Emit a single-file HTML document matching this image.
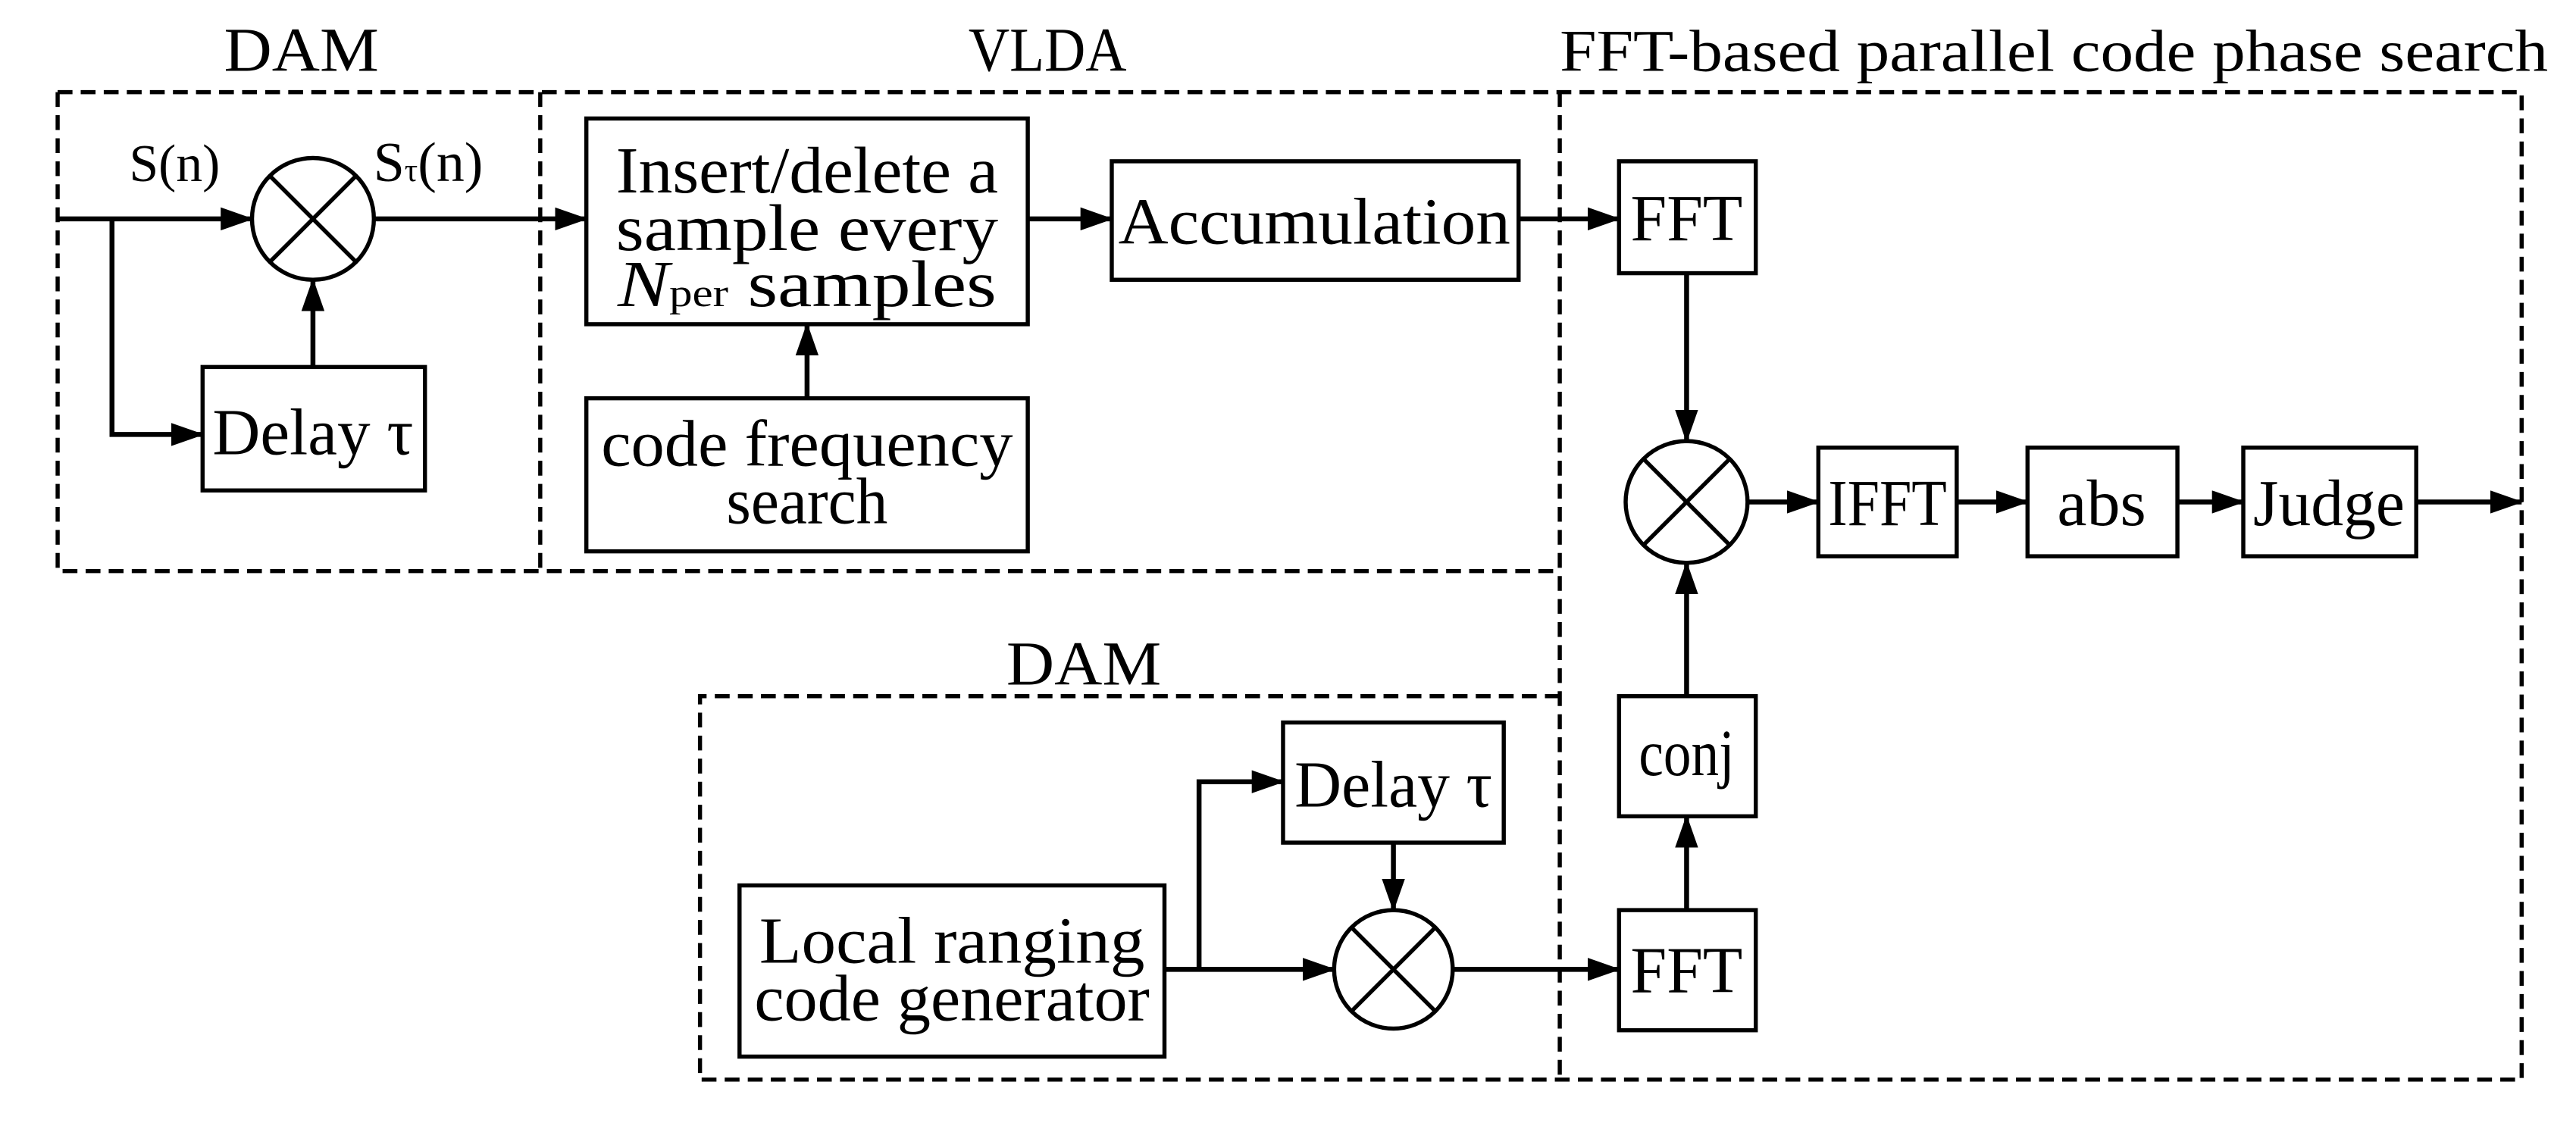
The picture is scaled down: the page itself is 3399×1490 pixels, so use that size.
<!DOCTYPE html>
<html><head><meta charset="utf-8"><style>html,body{margin:0;padding:0;background:#fff}svg{display:block}</style></head>
<body>
<svg width="3399" height="1490" viewBox="0 0 1564 686" preserveAspectRatio="none" xmlns="http://www.w3.org/2000/svg" font-family="Liberation Serif, serif" font-size="40" text-anchor="middle">
<defs>
<marker id="a" markerWidth="20" markerHeight="14" refX="19" refY="7" orient="auto" markerUnits="userSpaceOnUse"><path d="M0,0 L20,7 L0,14 Z" fill="#000"/></marker>
</defs>
<g fill="none" stroke="#000" stroke-width="2.5" stroke-dasharray="9,5">
<path d="M35,56 H1531 V656 H425 V423 H947"/>
<path d="M35,56 V347 H947"/>
<path d="M328,56 V347"/>
<path d="M947,56 V656"/>
</g>
<g fill="none" stroke="#000" stroke-width="2.5">
<rect x="123" y="223" width="135" height="75"/>
<rect x="356" y="72" width="268" height="125"/>
<rect x="675" y="98" width="247" height="72"/>
<rect x="356" y="242" width="268" height="93"/>
<rect x="983" y="98" width="83" height="68"/>
<rect x="1104" y="272" width="84" height="66"/>
<rect x="1231" y="272" width="91" height="66"/>
<rect x="1362" y="272" width="105" height="66"/>
<rect x="983" y="423" width="83" height="73"/>
<rect x="983" y="553" width="83" height="73"/>
<rect x="779" y="439" width="134" height="73"/>
<rect x="449" y="538" width="258" height="104"/>
<circle cx="190" cy="133" r="37"/><path d="M164,107 L216,159 M216,107 L164,159"/>
<circle cx="1024" cy="305" r="37"/><path d="M998,279 L1050,331 M1050,279 L998,331"/>
<circle cx="846" cy="589" r="36"/><path d="M821,564 L871,614 M871,564 L821,614"/>
</g>
<g fill="none" stroke="#000" stroke-width="3" marker-end="url(#a)">
<path d="M35,133 H153"/>
<path d="M68,133 V264 H123"/>
<path d="M190,223 V170"/>
<path d="M227,133 H356"/>
<path d="M624,133 H675"/>
<path d="M490,242 V197"/>
<path d="M922,133 H983"/>
<path d="M1024,166 V268"/>
<path d="M1061,305 H1104"/>
<path d="M1188,305 H1231"/>
<path d="M1322,305 H1362"/>
<path d="M1467,305 H1531"/>
<path d="M1024,423 V342"/>
<path d="M1024,553 V496"/>
<path d="M707,589 H810"/>
<path d="M728,589 V475 H779"/>
<path d="M846,512 V553"/>
<path d="M882,589 H983"/>
</g>
<g fill="#000">
<text x="183" y="43" font-size="38" textLength="94" lengthAdjust="spacingAndGlyphs">DAM</text>
<text x="636" y="43" font-size="38" textLength="96" lengthAdjust="spacingAndGlyphs">VLDA</text>
<text x="1247" y="43" font-size="36" textLength="600" lengthAdjust="spacingAndGlyphs">FFT-based parallel code phase search</text>
<text x="658" y="416" font-size="38" textLength="94" lengthAdjust="spacingAndGlyphs">DAM</text>
<text x="106" y="110" font-size="32">S(n)</text>
<text x="260" y="110" font-size="34">S<tspan font-size="20">τ</tspan>(n)</text>
<text x="190" y="276" textLength="122" lengthAdjust="spacingAndGlyphs">Delay τ</text>
<text x="490" y="117" textLength="232" lengthAdjust="spacingAndGlyphs">Insert/delete a</text>
<text x="490" y="152" textLength="232" lengthAdjust="spacingAndGlyphs">sample every</text>
<text x="490" y="186" textLength="230" lengthAdjust="spacingAndGlyphs"><tspan font-style="italic">N</tspan><tspan font-size="24">per</tspan> samples</text>
<text x="798" y="148" textLength="238" lengthAdjust="spacingAndGlyphs">Accumulation</text>
<text x="490" y="283" textLength="250" lengthAdjust="spacingAndGlyphs">code frequency</text>
<text x="490" y="318" textLength="98" lengthAdjust="spacingAndGlyphs">search</text>
<text x="1024" y="146" textLength="68" lengthAdjust="spacingAndGlyphs">FFT</text>
<text x="1146" y="319" textLength="72" lengthAdjust="spacingAndGlyphs">IFFT</text>
<text x="1276" y="319" textLength="54" lengthAdjust="spacingAndGlyphs">abs</text>
<text x="1414" y="319" textLength="92" lengthAdjust="spacingAndGlyphs">Judge</text>
<text x="1024" y="471" textLength="58" lengthAdjust="spacingAndGlyphs">conj</text>
<text x="1024" y="603" textLength="68" lengthAdjust="spacingAndGlyphs">FFT</text>
<text x="846" y="490" textLength="120" lengthAdjust="spacingAndGlyphs">Delay τ</text>
<text x="578" y="585" textLength="234" lengthAdjust="spacingAndGlyphs">Local ranging</text>
<text x="578" y="620" textLength="240" lengthAdjust="spacingAndGlyphs">code generator</text>
</g>
</svg>
</body></html>
